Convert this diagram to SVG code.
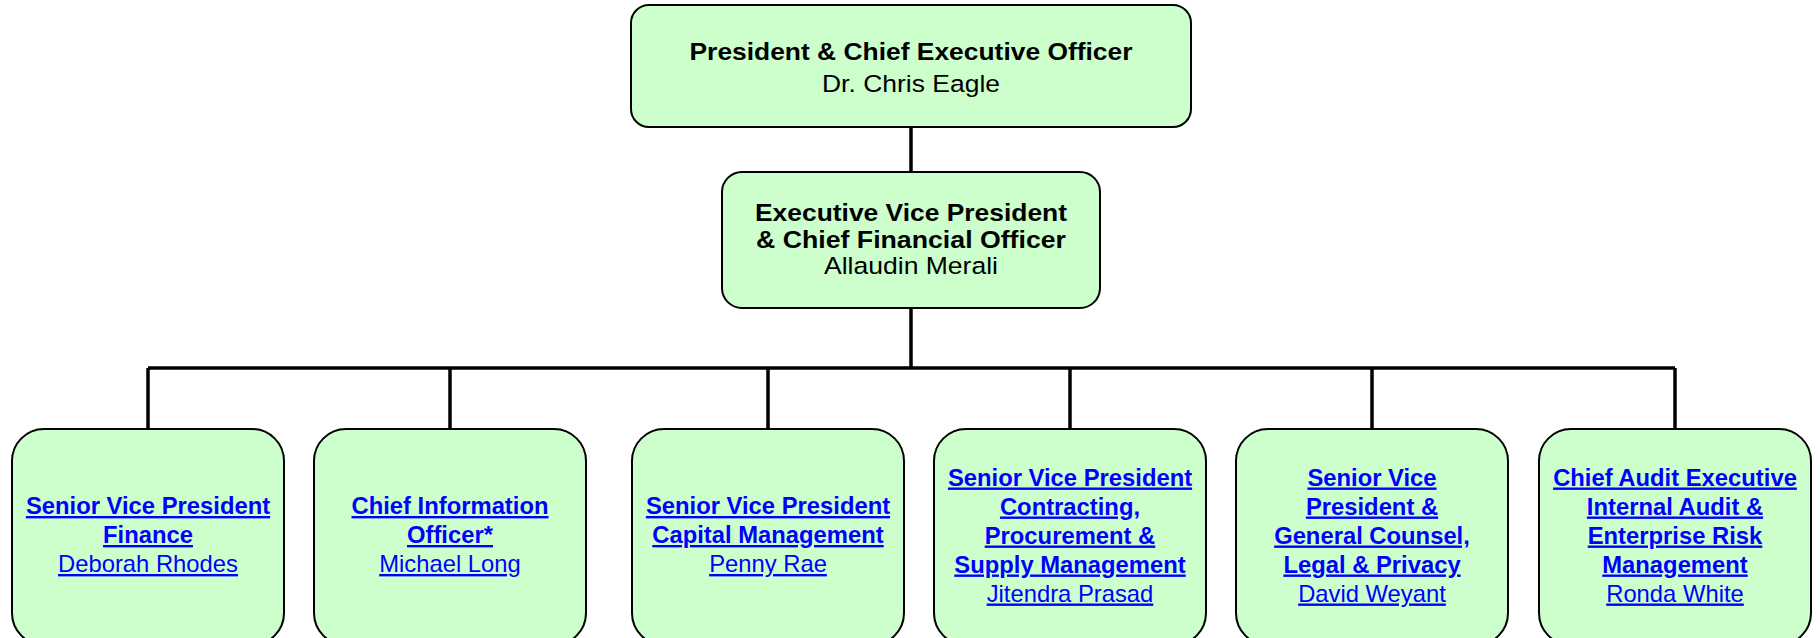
<svg xmlns="http://www.w3.org/2000/svg" width="1820" height="638" viewBox="0 0 1820 638">
<style>
.box{fill:#CCFFCC;stroke:#000;stroke-width:2}
.line{stroke:#000;stroke-width:3.5;fill:none}
.t{font-family:"Liberation Sans",Arial,sans-serif;text-anchor:middle}
.hb{font-size:24.5px;font-weight:bold;fill:#000}
.hr{font-size:24.5px;fill:#000}
.lb{font-size:23.8px;font-weight:bold;fill:#0000FF;text-decoration:underline}
.lr{font-size:23.8px;fill:#0000FF;text-decoration:underline}
</style>
<rect width="1820" height="638" fill="#fff"/>
<g id="connectors">
<line class="line" x1="911" y1="127" x2="911" y2="172"/>
<line class="line" x1="911" y1="308" x2="911" y2="368" stroke-width="4"/>
<line class="line" x1="148" y1="368" x2="1675" y2="368"/>
<line class="line" x1="148" y1="368" x2="148" y2="429"/>
<line class="line" x1="450" y1="368" x2="450" y2="429"/>
<line class="line" x1="768" y1="368" x2="768" y2="429"/>
<line class="line" x1="1070" y1="368" x2="1070" y2="429"/>
<line class="line" x1="1372" y1="368" x2="1372" y2="429"/>
<line class="line" x1="1675" y1="368" x2="1675" y2="429"/>
</g>
<g id="ceo">
<rect class="box" x="631" y="5" width="560" height="122" rx="18"/>
<text class="t hb" x="911" y="60" textLength="443" lengthAdjust="spacingAndGlyphs">President &amp; Chief Executive Officer</text>
<text class="t hr" x="911" y="92" textLength="178" lengthAdjust="spacingAndGlyphs">Dr. Chris Eagle</text>
</g>
<g id="cfo">
<rect class="box" x="722" y="172" width="378" height="136" rx="20"/>
<text class="t hb" x="911" y="221" textLength="312" lengthAdjust="spacingAndGlyphs">Executive Vice President</text>
<text class="t hb" x="911" y="247.5" textLength="310" lengthAdjust="spacingAndGlyphs">&amp; Chief Financial Officer</text>
<text class="t hr" x="911" y="273.5" textLength="174" lengthAdjust="spacingAndGlyphs">Allaudin Merali</text>
</g>
<g id="svp-finance">
<rect class="box" x="12" y="429" width="272" height="216" rx="32"/>
<text class="t lb" x="148" y="514">Senior Vice President</text>
<text class="t lb" x="148" y="543">Finance</text>
<text class="t lr" x="148" y="572">Deborah Rhodes</text>
</g>
<g id="cio">
<rect class="box" x="314" y="429" width="272" height="216" rx="32"/>
<text class="t lb" x="450" y="514">Chief Information</text>
<text class="t lb" x="450" y="543">Officer*</text>
<text class="t lr" x="450" y="572">Michael Long</text>
</g>
<g id="svp-capital">
<rect class="box" x="632" y="429" width="272" height="216" rx="32"/>
<text class="t lb" x="768" y="514">Senior Vice President</text>
<text class="t lb" x="768" y="543">Capital Management</text>
<text class="t lr" x="768" y="572">Penny Rae</text>
</g>
<g id="svp-contracting">
<rect class="box" x="934" y="429" width="272" height="216" rx="32"/>
<text class="t lb" x="1070" y="485.5">Senior Vice President</text>
<text class="t lb" x="1070" y="514.5">Contracting,</text>
<text class="t lb" x="1070" y="543.5">Procurement &amp;</text>
<text class="t lb" x="1070" y="572.5">Supply Management</text>
<text class="t lr" x="1070" y="601.5">Jitendra Prasad</text>
</g>
<g id="svp-legal">
<rect class="box" x="1236" y="429" width="272" height="216" rx="32"/>
<text class="t lb" x="1372" y="485.5">Senior Vice</text>
<text class="t lb" x="1372" y="514.5">President &amp;</text>
<text class="t lb" x="1372" y="543.5">General Counsel,</text>
<text class="t lb" x="1372" y="572.5">Legal &amp; Privacy</text>
<text class="t lr" x="1372" y="601.5">David Weyant</text>
</g>
<g id="audit">
<rect class="box" x="1539" y="429" width="272" height="216" rx="32"/>
<text class="t lb" x="1675" y="485.5">Chief Audit Executive</text>
<text class="t lb" x="1675" y="514.5">Internal Audit &amp;</text>
<text class="t lb" x="1675" y="543.5">Enterprise Risk</text>
<text class="t lb" x="1675" y="572.5">Management</text>
<text class="t lr" x="1675" y="601.5">Ronda White</text>
</g>
</svg>
